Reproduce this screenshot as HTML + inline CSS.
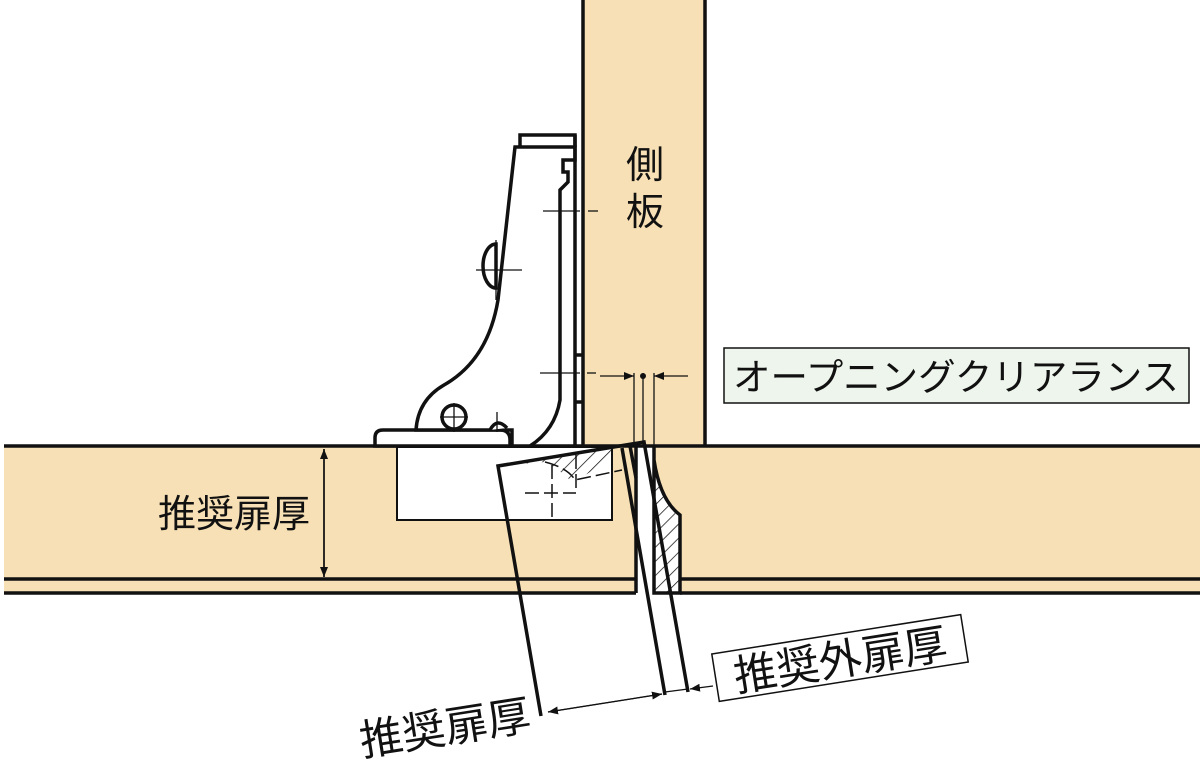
<!DOCTYPE html>
<html><head><meta charset="utf-8"><style>
html,body{margin:0;padding:0;background:#fff;width:1200px;height:763px;overflow:hidden}
svg{display:block}
text{font-family:"Liberation Sans","Noto Sans CJK JP",sans-serif;fill:#111}
</style></head><body>
<svg width="1200" height="763" viewBox="0 0 1200 763" xmlns="http://www.w3.org/2000/svg">
<defs>
<pattern id="h" patternUnits="userSpaceOnUse" width="10" height="10" patternTransform="rotate(45)">
<line x1="0" y1="0" x2="0" y2="10" stroke="#111" stroke-width="1.5"/></pattern>
<marker id="a" markerWidth="10" markerHeight="8" refX="10" refY="4" orient="auto" markerUnits="userSpaceOnUse" viewBox="0 0 10 8"><path d="M0,0L10,4L0,8z" fill="#111"/></marker>
</defs>
<rect x="582" y="0" width="124" height="447" fill="#f7e0b5"/>
<line x1="583" y1="0" x2="583" y2="447" stroke="#111" stroke-width="3.5"/>
<line x1="705" y1="0" x2="705" y2="447" stroke="#111" stroke-width="3.5"/>
<rect x="4" y="446" width="632" height="147" fill="#f7e0b5"/>
<rect x="680" y="446" width="520" height="147" fill="#f7e0b5"/>
<path d="M652,446 Q660,500 680,515 L680,446Z" fill="#f7e0b5"/>
<path d="M655,470 Q662,505 680,517 L680,593 L655,593Z" fill="url(#h)"/>
<g stroke="#111" stroke-width="3.5" fill="none">
<line x1="4" y1="446" x2="1200" y2="446"/>
<line x1="4" y1="579" x2="636" y2="579"/>
<line x1="4" y1="593" x2="636" y2="593"/>
<line x1="680" y1="579" x2="1200" y2="579"/>
<line x1="680" y1="593" x2="1200" y2="593"/>
<line x1="636" y1="446" x2="636" y2="593"/>
<path d="M654,446 L654,593 L680,593 L680,515 Q660,500 654,460"/>
</g>
<rect x="397" y="447" width="215" height="73" fill="#fff" stroke="#111" stroke-width="2"/>
<g stroke="#111" stroke-width="3.5" fill="#fff">
<path d="M375,446 L375,438 Q375,430 383,430 L500,430 Q510,430 510,440 L510,446Z"/>
<path d="M575,147 L575,135 L520,135 L520,147" fill="#fff"/>
<path d="M496,244 A13,22 0 0 0 496,288Z" fill="#fff"/>
<path d="M515,147 L498,300 Q488,360 444,385 Q418,400 416,430 L512,430 L512,446 L530,446 Q555,430 560,400 L560,190 L568,182 L568,172 L563,172 L563,160 L575,160 L575,147Z"/>
<path d="M575,135 L575,447" fill="none"/>
<path d="M575,355 L583,355 M575,402 L583,402" fill="none"/>
<circle cx="454" cy="417" r="12"/>
<path d="M490,430 Q497,417 507,428" fill="#fff"/>
</g>
<g stroke="#111" stroke-width="1.3" fill="none">
<line x1="543" y1="211" x2="580" y2="211"/><line x1="588" y1="211" x2="598" y2="211"/>
<line x1="476" y1="270" x2="522" y2="270"/><line x1="496" y1="240" x2="496" y2="300"/>
<line x1="540" y1="373" x2="580" y2="373"/><line x1="587" y1="373" x2="596" y2="373"/>
<line x1="440" y1="417" x2="468" y2="417"/><line x1="454" y1="403" x2="454" y2="432"/>
<line x1="497" y1="412" x2="497" y2="432"/>
</g>
<g stroke="#111" stroke-width="1.3">
<line x1="634" y1="373" x2="634" y2="447"/>
<line x1="643" y1="373" x2="643" y2="447"/>
<line x1="654" y1="373" x2="654" y2="447"/>
<line x1="600" y1="376" x2="634" y2="376" marker-end="url(#a)"/>
<line x1="688" y1="376" x2="654" y2="376" marker-end="url(#a)"/>
</g>
<circle cx="643" cy="376" r="3" fill="#111"/>
<path d="M498,466 L644,442 L622,447 Q598,470 575,480 L570,480 Q560,470 545,462Z" fill="url(#h)"/>
<g stroke="#111" stroke-width="3.5" fill="none">
<path d="M541,716 L498,466 L644,442 L688,692"/>
<line x1="622" y1="448" x2="665" y2="695"/>
<line x1="630" y1="446" x2="636" y2="478"/>
</g>
<g stroke="#111" stroke-width="1.5" fill="none" stroke-dasharray="14,5">
<path d="M545,462 Q568,468 575,480 L622,470"/>
<line x1="525" y1="493" x2="576" y2="493"/>
<line x1="552" y1="465" x2="552" y2="518"/>
<line x1="576" y1="455" x2="576" y2="493"/>
</g>
<g stroke="#111" stroke-width="1.3">
<line x1="548" y1="712" x2="662" y2="694" marker-end="url(#a)"/>
<line x1="662" y1="694" x2="548" y2="712" marker-end="url(#a)"/>
<line x1="665" y1="692" x2="688" y2="689"/>
<line x1="713" y1="686" x2="690" y2="689" marker-end="url(#a)"/>
</g>
<g stroke="#111" stroke-width="1.5">
<line x1="324" y1="449" x2="324" y2="577" marker-end="url(#a)"/>
<line x1="324" y1="577" x2="324" y2="449" marker-end="url(#a)"/>
</g>
<text x="645" y="178" font-size="38" text-anchor="middle">側</text>
<text x="645" y="225" font-size="38" text-anchor="middle">板</text>
<rect x="724" y="348" width="465" height="55" fill="#eef5ec" stroke="#111" stroke-width="1.5"/>
<text x="956" y="390" font-size="37" text-anchor="middle" textLength="446" lengthAdjust="spacingAndGlyphs">オープニングクリアランス</text>
<text x="234" y="527" font-size="38" text-anchor="middle">推奨扉厚</text>
<g transform="translate(840,658) rotate(-9)">
<rect x="-126" y="-24" width="252" height="48" fill="#fff" stroke="#111" stroke-width="1.5"/>
<text x="0" y="17" font-size="43" text-anchor="middle">推奨外扉厚</text>
</g>
<g transform="translate(445,728) rotate(-9)">
<text x="0" y="15" font-size="43" text-anchor="middle">推奨扉厚</text>
</g>
</svg>
</body></html>
